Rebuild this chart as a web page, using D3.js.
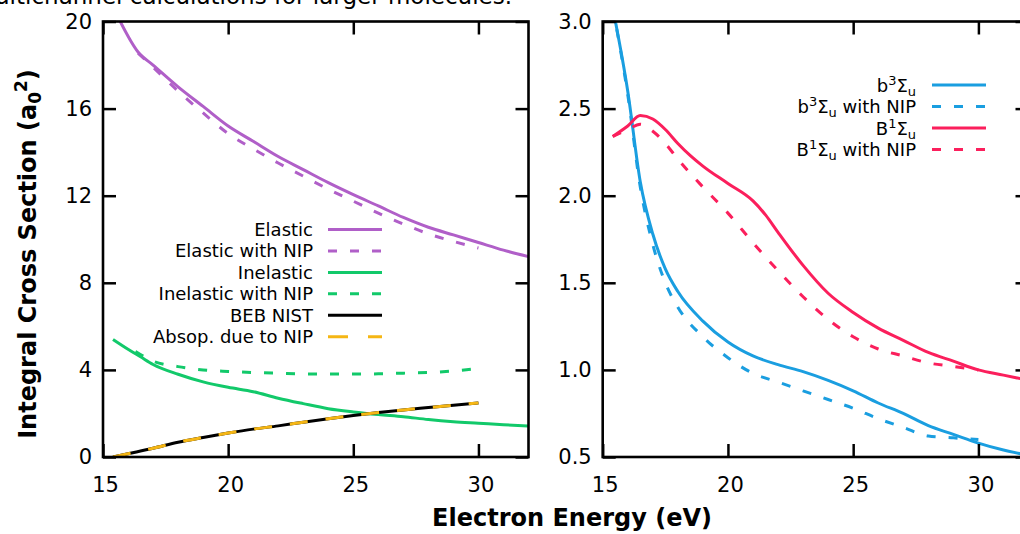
<!DOCTYPE html>
<html><head><meta charset="utf-8">
<script src="https://cdn.jsdelivr.net/npm/d3@7"></script>
<style>
html,body{margin:0;padding:0;background:#fff;}
svg{display:block;font-family:"DejaVu Sans",sans-serif;}
</style></head>
<body>
<svg id="chart" width="1020" height="534"></svg>
<script>
// ---- Data ----
const xTicks = [15, 20, 25, 30];
const leftYTicks = [0, 4, 8, 12, 16, 20];
const rightYTicks = [0.5, 1.0, 1.5, 2.0, 2.5, 3.0];

const elasticE = [15.6, 16.4, 17, 18, 19, 20, 21, 22, 23, 24, 25, 26, 27, 28, 29, 30, 31, 32];
const elastic  = [20.2, 18.6, 18.0, 17.0, 16.1, 15.2, 14.5, 13.8, 13.2, 12.6, 12.05, 11.53, 11.0, 10.55, 10.2, 9.85, 9.5, 9.2];
const elasticNipE = [16.4, 17, 18, 19, 20, 21, 22, 23, 24, 25, 26, 27, 28, 29, 30];
const elasticNip  = [18.55, 17.9, 16.8, 15.8, 14.85, 14.15, 13.5, 12.9, 12.3, 11.75, 11.2, 10.7, 10.25, 9.9, 9.6];
const inelasticE = [15.4, 16, 16.5, 17, 18, 19, 20, 21, 22, 23, 24, 25, 26, 27, 28, 29, 30, 31, 32];
const inelastic  = [5.4, 4.95, 4.6, 4.25, 3.8, 3.45, 3.2, 3.0, 2.7, 2.45, 2.22, 2.07, 1.95, 1.85, 1.72, 1.62, 1.55, 1.48, 1.42];
const inelasticNipE = [16.3, 17, 18, 19, 20, 21, 22, 23, 24, 25, 26, 27, 28, 29, 30];
const inelasticNip  = [4.85, 4.4, 4.15, 4.0, 3.93, 3.88, 3.85, 3.82, 3.81, 3.81, 3.82, 3.85, 3.88, 3.95, 4.07];
const bebE = [15.4, 16, 17, 18, 19, 20, 21, 22, 23, 24, 25, 26, 27, 28, 29, 30];
const beb  = [0.0, 0.15, 0.4, 0.68, 0.9, 1.1, 1.28, 1.43, 1.6, 1.76, 1.91, 2.04, 2.16, 2.27, 2.38, 2.48];
const absopE = [15.4, 16, 17, 18, 19, 20, 21, 22, 23, 24, 25, 26, 27, 28, 29, 30];
const absop  = [0.0, 0.15, 0.4, 0.68, 0.9, 1.1, 1.28, 1.43, 1.6, 1.76, 1.91, 2.04, 2.16, 2.27, 2.38, 2.48];

const b3E = [15.4, 16, 16.5, 17, 17.5, 18, 19, 20, 21, 22, 23, 24, 25, 26, 27, 28, 29, 30, 31, 32];
const b3  = [3.08, 2.6, 2.08, 1.78, 1.58, 1.45, 1.28, 1.16, 1.08, 1.03, 0.99, 0.94, 0.88, 0.81, 0.75, 0.68, 0.63, 0.58, 0.54, 0.51];
const b3NipE = [15.4, 16, 16.5, 17, 17.5, 18, 19, 20, 21, 22, 23, 24, 25, 26, 27, 28, 29, 30];
const b3Nip  = [3.08, 2.58, 2.05, 1.72, 1.5, 1.36, 1.19, 1.07, 0.98, 0.93, 0.88, 0.83, 0.78, 0.72, 0.67, 0.62, 0.61, 0.6];
const B1E = [15.4, 16, 16.5, 17, 17.5, 18, 18.5, 19, 20, 21, 21.5, 22, 23, 24, 25, 26, 27, 28, 29, 30, 31, 32];
const B1  = [2.34, 2.4, 2.46, 2.44, 2.38, 2.3, 2.23, 2.17, 2.07, 1.97, 1.89, 1.79, 1.6, 1.44, 1.33, 1.24, 1.17, 1.1, 1.05, 1.0, 0.97, 0.94];
const B1NipE = [15.4, 16, 16.5, 17, 17.5, 18, 19, 20, 21, 22, 23, 24, 25, 26, 27, 28, 29, 30];
const B1Nip  = [2.34, 2.38, 2.41, 2.37, 2.3, 2.21, 2.05, 1.9, 1.73, 1.57, 1.42, 1.29, 1.19, 1.12, 1.08, 1.04, 1.02, 1.0];

// ---- Styles ----
const C = {purple:"#b05fc8", green:"#12c96a", black:"#000", yellow:"#f5b614", blue:"#1a9ee0", red:"#fb1f5c"};
const DASH = "9,13";

const svg = d3.select("#chart");
const FS_TICK = 21, FS_LEG = 18, FS_TITLE = 24;

// top clipped text (a line of the surrounding document, cut by the crop)
svg.append("text").attr("x", 512).attr("y", 4).attr("text-anchor","end")
  .attr("font-size", 23).attr("fill","#000").text("multichannel calculations for larger molecules.");

function panel(cfg){
  const {x0, x1, y0, y1, xDomain, yDomain, yTicks, yFmt, series, legend, id} = cfg;
  const x = d3.scaleLinear().domain(xDomain).range([x0, x1]);
  const y = d3.scaleLinear().domain(yDomain).range([y1, y0]);
  const g = svg.append("g");
  g.append("clipPath").attr("id", id).append("rect")
    .attr("x", x0).attr("y", y0).attr("width", x1-x0).attr("height", y1-y0);

  const line = d3.line().x(d=>x(d[0])).y(d=>y(d[1])).curve(d3.curveMonotoneX);
  const cg = g.append("g").attr("clip-path", `url(#${id})`);
  series.forEach(s=>{
    const pts = s.E.map((e,i)=>[e, s.v[i]]);
    cg.append("path").attr("d", line(pts)).attr("fill","none")
      .attr("stroke", s.color).attr("stroke-width", 3)
      .attr("stroke-dasharray", s.dash || null);
  });

  // axes
  const axL = d3.axisLeft(y).tickValues(yTicks).tickSizeInner(-13).tickSizeOuter(0).tickPadding(11).tickFormat(yFmt);
  const axR = d3.axisRight(y).tickValues(yTicks).tickSizeInner(-13).tickSizeOuter(0).tickFormat("");
  const axB = d3.axisBottom(x).tickValues(xTicks).tickSizeInner(-13).tickSizeOuter(0).tickPadding(20).tickFormat(d3.format("d"));
  const axT = d3.axisTop(x).tickValues(xTicks).tickSizeInner(-13).tickSizeOuter(0).tickFormat("");
  [[axL,`translate(${x0},0)`,false],[axR,`translate(${x1},0)`,false],[axB,`translate(0,${y1})`,true],[axT,`translate(0,${y0})`,false]].forEach(([a,t,isB])=>{
    const ag = g.append("g").attr("transform", t).call(a);
    ag.select(".domain").remove();
    ag.selectAll(".tick line").attr("stroke","#000").attr("stroke-width",2.5);
    ag.selectAll("text").attr("font-size", FS_TICK).attr("font-family","DejaVu Sans").attr("fill","#000");
    if (isB) ag.selectAll("text").attr("dx", 2);
  });
  g.append("rect").attr("x", x0).attr("y", y0).attr("width", x1-x0).attr("height", y1-y0)
    .attr("fill","none").attr("stroke","#000").attr("stroke-width",2.6);

  // legend
  const lg = g.append("g");
  legend.rows.forEach((r,i)=>{
    const ly = legend.y + i*legend.dy;
    const t = lg.append("text").attr("x", legend.tx).attr("y", ly + 6.5).attr("text-anchor","end")
      .attr("font-size", FS_LEG).attr("fill","#000");
    r.parts.forEach(p=>{
      const ts = t.append("tspan").text(p.t);
      if (p.sup) ts.attr("font-size", FS_LEG*0.72).attr("dy", -7);
      if (p.sub) ts.attr("font-size", FS_LEG*0.72).attr("dy", p.dy);
      if (p.back) ts.attr("dy", p.back);
    });
    lg.append("line").attr("x1", legend.lx0).attr("x2", legend.lx1).attr("y1", ly).attr("y2", ly)
      .attr("stroke", r.color).attr("stroke-width", 3).attr("stroke-dasharray", r.dash || null);
  });
  return {x, y};
}

panel({
  id:"clipL", x0:103, x1:528.5, y0:21.5, y1:457, xDomain:[15,32], yDomain:[0,20],
  yTicks:leftYTicks, yFmt:d3.format("d"),
  series:[
    {E:elasticE, v:elastic, color:C.purple},
    {E:elasticNipE, v:elasticNip, color:C.purple, dash:DASH},
    {E:inelasticE, v:inelastic, color:C.green},
    {E:inelasticNipE, v:inelasticNip, color:C.green, dash:DASH},
    {E:bebE, v:beb, color:C.black},
    {E:absopE, v:absop, color:C.yellow, dash:"18,18"}
  ],
  legend:{tx:313, lx0:328, lx1:382, y:229.5, dy:21.45, rows:[
    {parts:[{t:"Elastic"}], color:C.purple},
    {parts:[{t:"Elastic with NIP"}], color:C.purple, dash:DASH},
    {parts:[{t:"Inelastic"}], color:C.green},
    {parts:[{t:"Inelastic with NIP"}], color:C.green, dash:DASH},
    {parts:[{t:"BEB NIST"}], color:C.black},
    {parts:[{t:"Absop. due to NIP"}], color:C.yellow, dash:"20,20"}
  ]}
});

panel({
  id:"clipR", x0:602.7, x1:1028.5, y0:21.5, y1:457, xDomain:[15,32], yDomain:[0.5,3.0],
  yTicks:rightYTicks, yFmt:d3.format(".1f"),
  series:[
    {E:b3E, v:b3, color:C.blue},
    {E:b3NipE, v:b3Nip, color:C.blue, dash:DASH},
    {E:B1E, v:B1, color:C.red},
    {E:B1NipE, v:B1Nip, color:C.red, dash:DASH}
  ],
  legend:{tx:916, lx0:932, lx1:986, y:85, dy:21.5, rows:[
    {parts:[{t:"b"},{t:"3",sup:true},{t:"Σ",back:7},{t:"u",sub:true,dy:4}], color:C.blue},
    {parts:[{t:"b"},{t:"3",sup:true},{t:"Σ",back:7},{t:"u",sub:true,dy:4},{t:" with NIP",back:-4}], color:C.blue, dash:DASH},
    {parts:[{t:"B"},{t:"1",sup:true},{t:"Σ",back:7},{t:"u",sub:true,dy:4}], color:C.red},
    {parts:[{t:"B"},{t:"1",sup:true},{t:"Σ",back:7},{t:"u",sub:true,dy:4},{t:" with NIP",back:-4}], color:C.red, dash:DASH}
  ]}
});

// axis titles
svg.append("text").attr("x", 572).attr("y", 526).attr("text-anchor","middle")
  .attr("font-size", FS_TITLE).attr("font-weight","bold").text("Electron Energy (eV)");
const yl = svg.append("text").attr("transform","translate(36,254) rotate(-90)").attr("text-anchor","middle")
  .attr("font-size", FS_TITLE).attr("font-weight","bold");
yl.append("tspan").text("Integral Cross Section (a");
yl.append("tspan").attr("font-size", 17).attr("dy", 5).text("0");
yl.append("tspan").attr("font-size", 17).attr("dy", -14).text("2");
yl.append("tspan").attr("dy", 9).text(")");
</script>
</body></html>
